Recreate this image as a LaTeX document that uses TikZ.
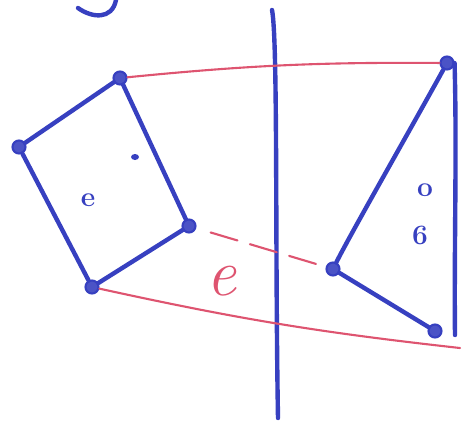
\documentclass[tikz,border=0pt]{standalone}
\definecolor{penblue}{RGB}{55,64,192}
\definecolor{penred}{RGB}{222,84,112}
\tikzset{vdot/.style={
    circle,
    draw=penblue,
    fill=penblue!90,
    line width=1.2pt,
    inner sep=0pt,
    minimum size=0.26cm
  },
  bline/.style={draw=penblue,line width=2.5pt,line cap=round},
  rline/.style={draw=penred,line width=1.2pt,line cap=round},
  blabel/.style={text=penblue,font=\fontsize{16}{16}\selectfont\bfseries,inner sep=0pt},
  rlabel/.style={text=penred,font=\fontsize{38}{38}\selectfont\itshape,inner sep=0pt},
}

\begin{document}
\begin{tikzpicture}[x=0.02cm,y=-0.02cm]
  \useasboundingbox (0,0) rectangle (467,424);
  % corners of the left patch
  \node [vdot] (qa) at (120,78) {};
  \node [vdot] (qb) at (19,147) {};
  \node [vdot] (qc) at (92,287) {};
  \node [vdot] (qd) at (189,226) {};
  % corners of the right patch
  \node [vdot] (ta) at (447,63) {};
  \node [vdot] (tb) at (333,269) {};
  \node [vdot] (tc) at (435,331) {};
  % free ends
  \coordinate (mtop) at (272,10);
  \coordinate (mbot) at (278,418);
  \coordinate (rbot) at (455,335);
  \coordinate (redend) at (460,348);
  % labels
  \node [rlabel] (elabel) at (222,281) {e};
  \node [blabel] (einner) at (88,200) {e};
  \node [blabel] (olabel) at (425,190) {o};
  \node [blabel] (sixlabel) at (420,235) {6};

  \draw[bline] (78,8) .. controls (92,18) and (112,20) .. (116,0);
  \fill[penblue] (135,157) ellipse [x radius=4, y radius=3];
  \draw[bline] (mtop) .. controls (278,40) and (275,250) .. (mbot);

  \draw[bline] (qa) -- (qb) -- (qc) -- (qd) -- (qa);
  \draw[bline] (ta) .. controls (410,130) and (350,235) .. (tb);
  \draw[bline] (tb) -- (tc);
  \draw[bline] (ta.east) .. controls (457,150) and (454,250) .. (rbot);

  \draw[rline] (qa) to[bend left=3] (ta);
  \draw[rline] (qc) to[bend right=3] (redend);
  \draw[rline,dash pattern=on 0.56cm off 0.26cm,shorten <=0.3cm,shorten >=0.15cm] (qd) -- (tb);
\end{tikzpicture}
\end{document}
